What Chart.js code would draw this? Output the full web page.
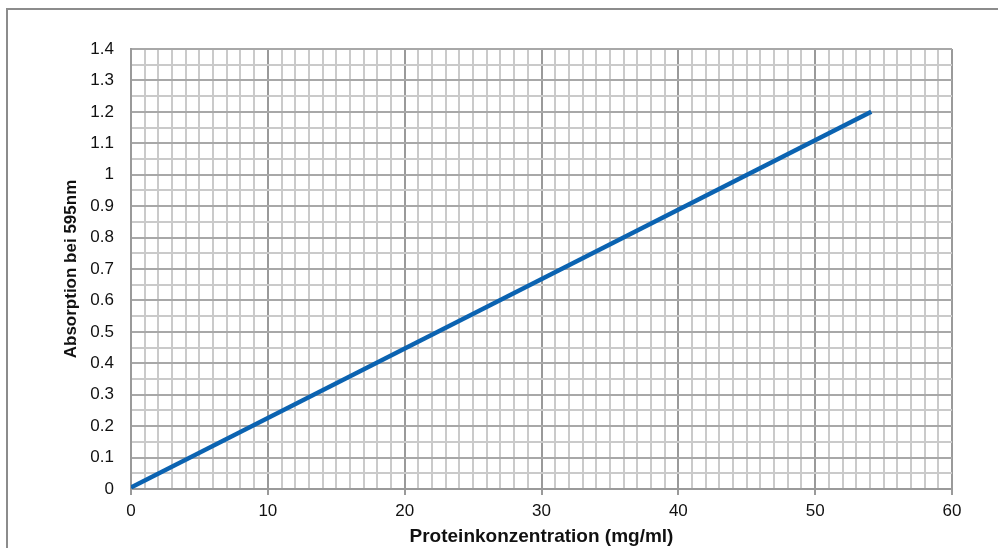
<!DOCTYPE html>
<html>
<head>
<meta charset="utf-8">
<script src="https://cdn.jsdelivr.net/npm/chart.js@4"></script>
<style>
  html, body { margin: 0; padding: 0; background: #fff; }
  #wrap { position: relative; width: 998px; height: 548px; }
  #frame { position: absolute; left: 6px; top: 8px; right: -4px; bottom: -4px; border-left: 2px solid #8c8c8c; border-top: 2px solid #8c8c8c; }
  canvas { position: absolute; left: 0; top: 0; }
</style>
</head>
<body>
<div id="wrap">
  <div id="frame"></div>
  <canvas id="chart" width="998" height="548"></canvas>
</div>
<script>
// data
const concentration = [0, 54.1];
const absorption = [0.005, 1.2];

const xTitle = "Proteinkonzentration (mg/ml)";
const yTitle = "Absorption bei 595nm";

const ctx = document.getElementById("chart").getContext("2d");

const isMajorX = v => Math.round(v) % 10 === 0;
const isMajorY = v => Math.round(v * 100) % 10 === 0;

new Chart(ctx, {
  type: "line",
  data: {
    datasets: [{
      data: concentration.map((x, i) => ({ x: x, y: absorption[i] })),
      borderColor: "#0b63b1",
      borderWidth: 4.5,
      pointRadius: 0,
      fill: false,
      tension: 0
    }]
  },
  options: {
    responsive: false,
    animation: false,
    layout: { padding: { top: 49, right: 46, left: 61, bottom: 0 } },
    plugins: { legend: { display: false }, tooltip: { enabled: false } },
    scales: {
      x: {
        type: "linear",
        min: 0,
        max: 60,
        afterFit: s => { s.height = 59; },
        ticks: {
          stepSize: 1,
          autoSkip: false,
          maxRotation: 0,
          padding: 6,
          color: "#111",
          font: { family: "Liberation Sans", size: 17 },
          callback: v => (isMajorX(v) ? String(Math.round(v)) : "")
        },
        grid: {
          color: c => (isMajorX(c.tick.value) ? "#9a9a9a" : "#cacaca"),
          lineWidth: 2,
          tickLength: 6,
          tickColor: c => (isMajorX(c.tick.value) ? "#9a9a9a" : "rgba(0,0,0,0)")
        },
        border: { color: "#9a9a9a", width: 2 },
        title: {
          display: true,
          text: xTitle,
          color: "#111",
          font: { family: "Liberation Sans", size: 19, weight: "bold" },
          padding: { top: 0, bottom: 0 }
        }
      },
      y: {
        min: 0,
        max: 1.4,
        afterFit: s => { s.width = 70; },
        ticks: {
          stepSize: 0.05,
          autoSkip: false,
          padding: 17,
          color: "#111",
          font: { family: "Liberation Sans", size: 17 },
          callback: v => (isMajorY(v) ? String(Math.round(v * 10) / 10) : "")
        },
        grid: {
          color: c => (isMajorY(c.tick.value) ? "#a8a8a8" : "#cacaca"),
          lineWidth: 2,
          drawTicks: false
        },
        border: { color: "#9a9a9a", width: 2 },
        title: {
          display: true,
          text: yTitle,
          color: "#111",
          font: { family: "Liberation Sans", size: 17, weight: "bold" },
          padding: { top: 0, bottom: 0 }
        }
      }
    }
  }
});
</script>
</body>
</html>
